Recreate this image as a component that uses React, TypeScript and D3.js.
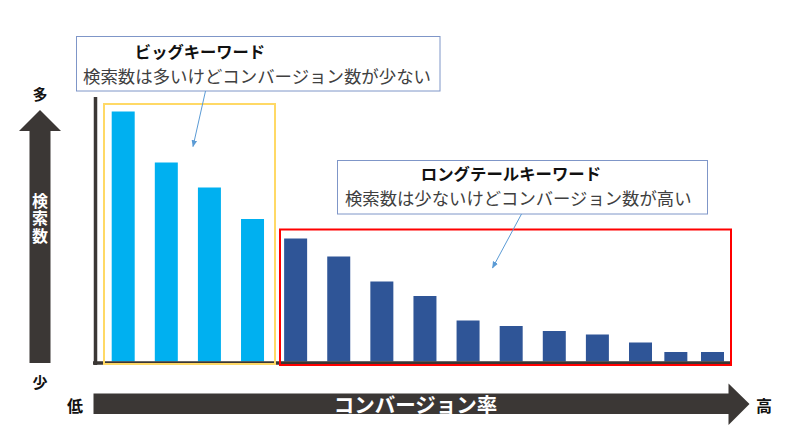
import React from "react";
import * as d3 from "d3";

const categories = ["K1","K2","K3","K4","K5","K6","K7","K8","K9","K10","K11","K12","K13","K14","K15"];
const searchVolume = [250, 199, 174, 142.5, 123, 105, 80, 65.5, 41, 35.5, 30.5, 27, 19, 9.5, 9.5];
const conversionRate = [1, 2, 3, 4, 5, 6, 7, 8, 9, 10, 11, 12, 13, 13.82, 14.67];
const groups = ["big","big","big","big","long","long","long","long","long","long","long","long","long","long","long"];
const groupColors: Record<string, string> = { big: "#00B0F0", long: "#2F5597" };

const bigTitle = "ビッグキーワード";
const bigDesc = "検索数は多いけどコンバージョン数が少ない";
const longTitle = "ロングテールキーワード";
const longDesc = "検索数は少ないけどコンバージョン数が高い";
const yAxisLabel = "検索数";
const yHigh = "多";
const yLow = "少";
const xAxisLabel = "コンバージョン率";
const xLow = "低";
const xHigh = "高";

const FONT = "'Noto Sans CJK JP', 'Noto Sans', sans-serif";

export default function App() {
  const W = 800, H = 442;
  const barW = 23;
  const x = d3.scaleLinear().domain([1, 13]).range([111.7 + barW / 2, 629 + barW / 2]);
  const y = d3.scaleLinear().domain([0, 265]).range([361.5, 96.5]);
  const dark = "#3B3735";

  const yArrow = d3.path();
  yArrow.moveTo(40, 110);
  yArrow.lineTo(61, 131);
  yArrow.lineTo(50.5, 131);
  yArrow.lineTo(50.5, 363);
  yArrow.lineTo(29.5, 363);
  yArrow.lineTo(29.5, 131);
  yArrow.lineTo(19, 131);
  yArrow.closePath();

  const xArrow = d3.path();
  xArrow.moveTo(93.5, 393.5);
  xArrow.lineTo(728.5, 393.5);
  xArrow.lineTo(728.5, 383.5);
  xArrow.lineTo(749.5, 404);
  xArrow.lineTo(728.5, 425);
  xArrow.lineTo(728.5, 414);
  xArrow.lineTo(93.5, 414);
  xArrow.closePath();

  return (
    <svg width={W} height={H} style={{ position: "absolute", left: 0, top: 0, background: "#fff" }} fontFamily={FONT}>
      <defs>
        <marker id="ah" viewBox="0 0 10 10" refX="9" refY="5" markerWidth="7" markerHeight="7" orient="auto">
          <path d="M0,1 L10,5 L0,9 Z" fill="#5B9BD5" />
        </marker>
      </defs>
      <rect width={W} height={H} fill="#fff" />

      {/* bars */}
      {categories.map((c, i) => (
        <rect key={c} x={x(conversionRate[i]) - barW / 2} y={y(searchVolume[i])}
          width={barW} height={y(0) - y(searchVolume[i])} fill={groupColors[groups[i]]} />
      ))}

      {/* axes lines */}
      <line x1={95.5} x2={95.5} y1={97} y2={365} stroke={dark} strokeWidth={3.5} />
      <line x1={93} x2={732} y1={363} y2={363} stroke={dark} strokeWidth={3.5} />

      {/* group boxes */}
      <rect x={104} y={104} width={171} height={260} fill="none" stroke="#FFD966" strokeWidth={2} />
      <rect x={280} y={229.5} width={451} height={135.5} fill="none" stroke="#FF0000" strokeWidth={2} />

      {/* callout 1 */}
      <rect x={76.5} y={36.5} width={363.5} height={54.5} fill="#fff" stroke="#7F96C8" strokeWidth={1} />
      <text x={200} y={58} textAnchor="middle" fontSize={16.3} fontWeight="bold" fill="#111">{bigTitle}</text>
      <text x={83} y={82.5} fontSize={17.2} fill="#404040" textLength={348} lengthAdjust="spacingAndGlyphs">{bigDesc}</text>
      <line x1={205.5} y1={91} x2={193} y2={146.5} stroke="#5B9BD5" strokeWidth={1} markerEnd="url(#ah)" />

      {/* callout 2 */}
      <rect x={337.5} y={160.5} width={370} height={53.5} fill="#fff" stroke="#7F96C8" strokeWidth={1} />
      <text x={511} y={179.5} textAnchor="middle" fontSize={16.4} fontWeight="bold" fill="#111">{longTitle}</text>
      <text x={345} y={205} fontSize={17.2} fill="#404040" textLength={346.5} lengthAdjust="spacingAndGlyphs">{longDesc}</text>
      <line x1={521.5} y1={214} x2={492.5} y2={268} stroke="#5B9BD5" strokeWidth={1} markerEnd="url(#ah)" />

      {/* y arrow */}
      <path d={yArrow.toString()} fill={dark} />
      <text x={40} y={219} textAnchor="middle" fontSize={16} fontWeight="bold" fill="#fff"
        style={{ writingMode: "vertical-rl", letterSpacing: "1.5px" }}>{yAxisLabel}</text>
      <text x={40} y={93} textAnchor="middle" dominantBaseline="central" fontSize={15} fontWeight="bold" fill="#111">{yHigh}</text>
      <text x={40} y={381} textAnchor="middle" dominantBaseline="central" fontSize={15} fontWeight="bold" fill="#111">{yLow}</text>

      {/* x arrow */}
      <path d={xArrow.toString()} fill={dark} />
      <text x={415.5} y={404} textAnchor="middle" dominantBaseline="central" fontSize={20.5} fontWeight="bold" fill="#fff">{xAxisLabel}</text>
      <text x={75} y={405} textAnchor="middle" dominantBaseline="central" fontSize={16} fontWeight="bold" fill="#111">{xLow}</text>
      <text x={764} y={405} textAnchor="middle" dominantBaseline="central" fontSize={16} fontWeight="bold" fill="#111">{xHigh}</text>
    </svg>
  );
}
